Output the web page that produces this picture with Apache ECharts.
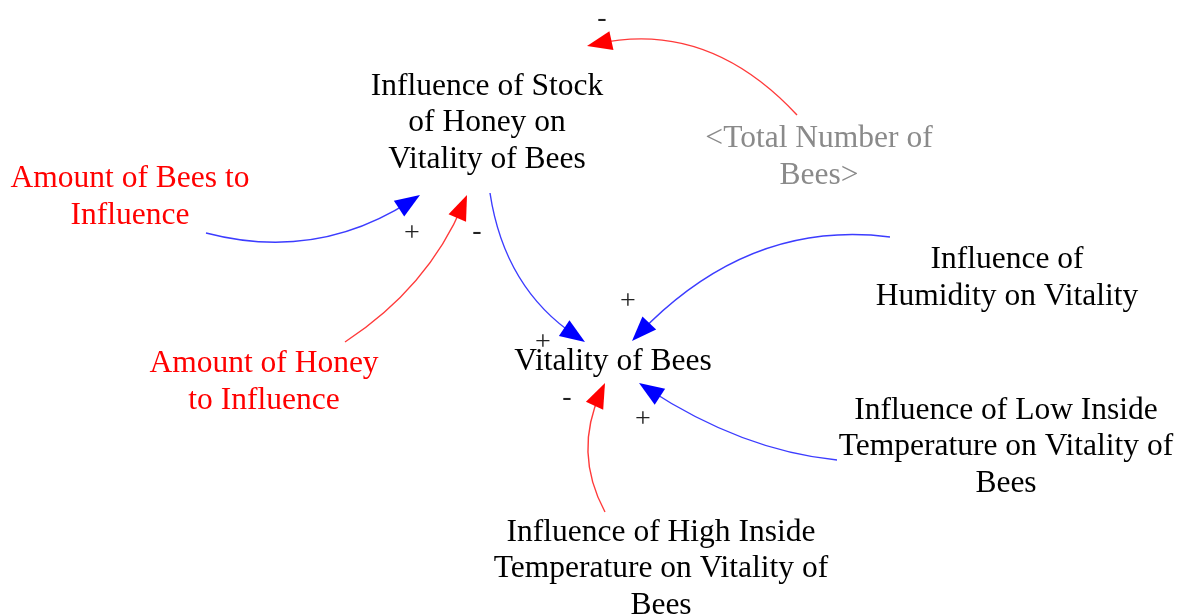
<!DOCTYPE html>
<html><head><meta charset="utf-8">
<script src="https://cdn.jsdelivr.net/npm/echarts@6/dist/echarts.min.js"></script>
<style>html,body{margin:0;padding:0;background:#fff}#c{width:1178px;height:615px}</style>
</head><body><div id="c"></div>
<script>
// ---- diagram data ----
const nodeLabels = [
  'Influence of Stock\nof Honey on\nVitality of Bees',
  '<Total Number of\nBees>',
  'Amount of Bees to\nInfluence',
  'Influence of\nHumidity on Vitality',
  'Vitality of Bees',
  'Amount of Honey\nto Influence',
  'Influence of Low Inside\nTemperature on Vitality of\nBees',
  'Influence of High Inside\nTemperature on Vitality of\nBees'
];
const nodeKinds = ['aux', 'shadow', 'constant', 'aux', 'aux', 'constant', 'aux', 'aux'];
const nodeX = [487, 819, 130, 1007, 613, 264, 1006, 661];
const nodeY = [123, 157, 197, 278, 362, 382, 447, 569];

// causal links (from -> to) with polarity
const linkFrom = [1, 2, 5, 0, 3, 6, 7];
const linkTo = [0, 0, 0, 4, 4, 4, 4];
const linkPolarity = ['-', '+', '-', '+', '+', '+', '-'];
// link geometry: start point, a point on the curve, arrow tip
const linkStart = [[797, 115], [206, 233], [345, 342], [490, 193], [890, 237], [837, 460], [605, 512]];
const linkMid = [[700, 50], [315, 238], [417, 278], [521, 278], [755, 254], [740, 436], [589, 450]];
const linkTip = [[587, 46], [420, 195], [467, 195], [585, 342], [632, 341], [639, 383], [605, 383]];
const polarityPos = [[602, 19], [412, 234], [477, 232], [543, 343], [628, 302], [643, 420], [567, 398]];

// ---- styles ----
const kindColor = { aux: '#000000', shadow: '#8a8a8a', constant: '#ff0000' };
const lineColor = { '+': '#3c3cff', '-': '#ff3a3a' };
const headColor = { '+': '#0000ff', '-': '#ff0000' };
const FONT = '"Liberation Serif", "Times New Roman", serif';

const chart = echarts.init(document.getElementById('c'), null, { renderer: 'canvas' });

const linkData = linkStart.map((s, i) => [s[0], s[1], linkMid[i][0], linkMid[i][1], linkTip[i][0], linkTip[i][1]]);

chart.setOption({
  animation: false,
  backgroundColor: '#ffffff',
  grid: { left: 0, right: 0, top: 0, bottom: 0 },
  xAxis: { type: 'value', min: 0, max: 1178, show: false },
  yAxis: { type: 'value', min: 0, max: 615, inverse: true, show: false },
  series: [
    {
      type: 'custom',
      coordinateSystem: 'cartesian2d',
      encode: { x: [0, 2, 4], y: [1, 3, 5] },
      data: linkData,
      clip: false,
      renderItem: function (params, api) {
        const p0 = api.coord([api.value(0), api.value(1)]);
        const pm = api.coord([api.value(2), api.value(3)]);
        const p2 = api.coord([api.value(4), api.value(5)]);
        const c = [2 * pm[0] - (p0[0] + p2[0]) / 2, 2 * pm[1] - (p0[1] + p2[1]) / 2];
        const dx = p2[0] - c[0], dy = p2[1] - c[1];
        const len = Math.hypot(dx, dy);
        const ux = dx / len, uy = dy / len;
        const L = 25, W = 9.5;
        const b = [p2[0] - ux * L, p2[1] - uy * L];
        const pol = linkPolarity[params.dataIndex];
        return {
          type: 'group',
          children: [
            {
              type: 'bezierCurve',
              shape: { x1: p0[0], y1: p0[1], x2: p2[0] - ux * 10, y2: p2[1] - uy * 10, cpx1: c[0], cpy1: c[1] },
              style: { stroke: lineColor[pol], lineWidth: 1.4, fill: null }
            },
            {
              type: 'polygon',
              shape: { points: [p2, [b[0] - uy * W, b[1] + ux * W], [b[0] + uy * W, b[1] - ux * W]] },
              style: { fill: headColor[pol], stroke: null }
            }
          ]
        };
      }
    },
    {
      type: 'scatter',
      symbolSize: 0,
      silent: true,
      itemStyle: { opacity: 1 },
      data: nodeLabels.map((t, i) => ({
        value: [nodeX[i], nodeY[i]],
        label: { color: kindColor[nodeKinds[i]] }
      })),
      label: {
        show: true,
        position: 'inside',
        opacity: 1,
        formatter: p => nodeLabels[p.dataIndex],
        fontFamily: FONT,
        fontSize: 31.5,
        lineHeight: 36.5,
        align: 'center',
        verticalAlign: 'middle'
      }
    },
    {
      type: 'scatter',
      symbolSize: 0,
      silent: true,
      itemStyle: { opacity: 1 },
      data: polarityPos.map(p => p.slice()),
      label: {
        show: true,
        position: 'inside',
        opacity: 1,
        formatter: p => linkPolarity[p.dataIndex],
        fontFamily: FONT,
        fontSize: 28,
        color: '#222222',
        align: 'center',
        verticalAlign: 'middle'
      }
    }
  ]
});
</script></body></html>
